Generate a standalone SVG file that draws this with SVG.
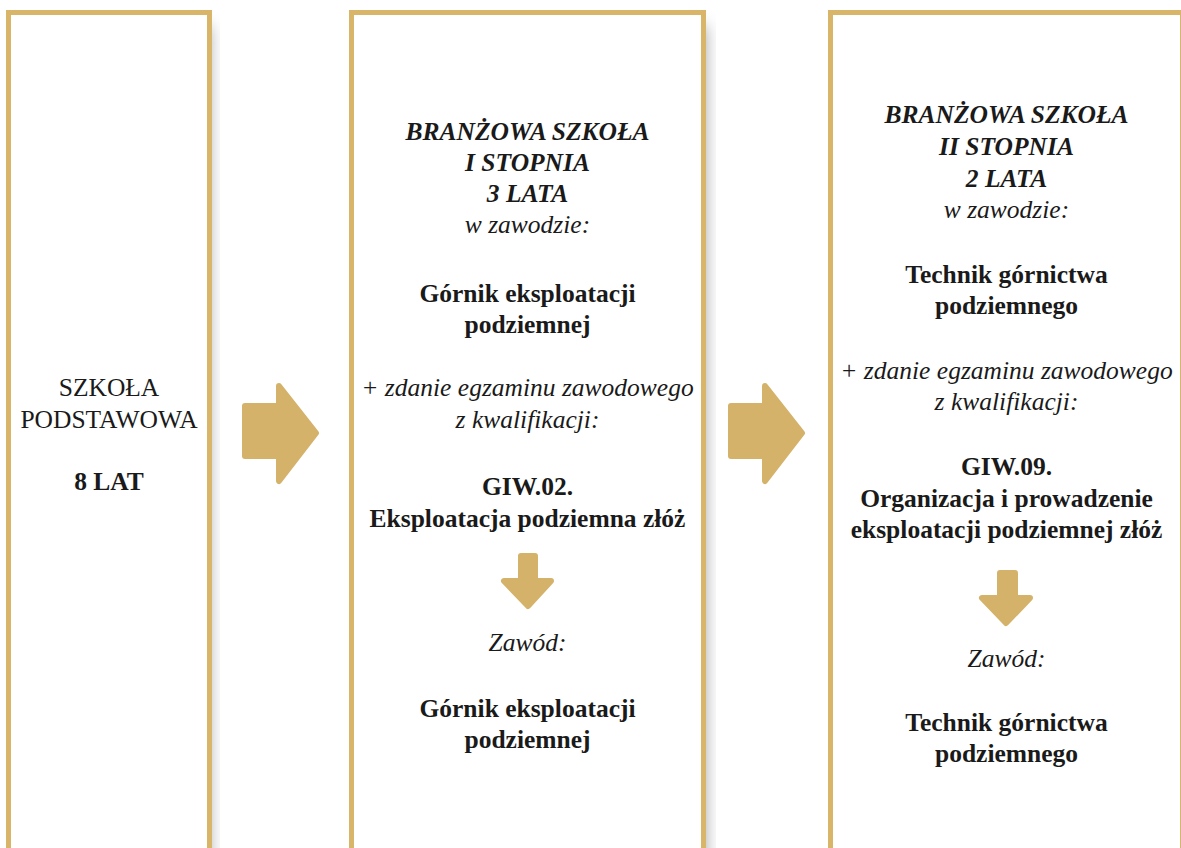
<svg xmlns="http://www.w3.org/2000/svg" width="1181" height="848" viewBox="0 0 1181 848">
<defs>
<filter id="blur" x="-50%" y="-10%" width="200%" height="120%"><feGaussianBlur stdDeviation="8"/></filter>
<style>
.box{fill:#fff;stroke:#d9b56a;stroke-width:5}
.sh{fill:#000;fill-opacity:0.35;filter:url(#blur)}
.arr{fill:#d5b26a;stroke:#d5b26a;stroke-width:6;stroke-linejoin:round}
text{font-family:"Liberation Serif","DejaVu Serif",serif;font-size:25.5px;fill:#1a1a1a;text-anchor:middle}
.b{font-weight:bold}
.i{font-style:italic}
.bi{font-weight:bold;font-style:italic}
</style>
</defs>
<rect width="1181" height="848" fill="#fff"/>
<g id="shadows">
<rect class="sh" x="190" y="26" width="20" height="900"/>
<rect class="sh" x="686" y="26" width="20" height="900"/>
</g>
<g id="node-podstawowa">
<rect class="box" x="8.5" y="12.5" width="201" height="900"/>
<text x="109" y="396">SZKOŁA</text>
<text x="109" y="428">PODSTAWOWA</text>
<text class="b" x="109" y="490">8 LAT</text>
</g>
<g id="node-branzowa1">
<rect class="box" x="351.5" y="12.5" width="352" height="900"/>
<text class="bi" x="527.5" y="140">BRANŻOWA SZKOŁA</text>
<text class="bi" x="527.5" y="171">I STOPNIA</text>
<text class="bi" x="527.5" y="202">3 LATA</text>
<text class="i" x="527.5" y="233">w zawodzie:</text>
<text class="b" x="527.5" y="302">Górnik eksploatacji</text>
<text class="b" x="527.5" y="333">podziemnej</text>
<text class="i" x="527.5" y="396">+ zdanie egzaminu zawodowego</text>
<text class="i" x="527.5" y="428">z kwalifikacji:</text>
<text class="b" x="527.5" y="495">GIW.02.</text>
<text class="b" x="527.5" y="527">Eksploatacja podziemna złóż</text>
<text class="i" x="527.5" y="651">Zawód:</text>
<text class="b" x="527.5" y="717">Górnik eksploatacji</text>
<text class="b" x="527.5" y="748">podziemnej</text>
</g>
<g id="node-branzowa2">
<rect class="box" x="830.5" y="12.5" width="352" height="900"/>
<text class="bi" x="1006.5" y="123">BRANŻOWA SZKOŁA</text>
<text class="bi" x="1006.5" y="155">II STOPNIA</text>
<text class="bi" x="1006.5" y="187">2 LATA</text>
<text class="i" x="1006.5" y="218">w zawodzie:</text>
<text class="b" x="1006.5" y="283">Technik górnictwa</text>
<text class="b" x="1006.5" y="314">podziemnego</text>
<text class="i" x="1006.5" y="379">+ zdanie egzaminu zawodowego</text>
<text class="i" x="1006.5" y="410">z kwalifikacji:</text>
<text class="b" x="1006.5" y="475">GIW.09.</text>
<text class="b" x="1006.5" y="507">Organizacja i prowadzenie</text>
<text class="b" x="1006.5" y="538">eksploatacji podziemnej złóż</text>
<text class="i" x="1006.5" y="667">Zawód:</text>
<text class="b" x="1006.5" y="731">Technik górnictwa</text>
<text class="b" x="1006.5" y="762">podziemnego</text>
</g>
<g id="connectors">
<path class="arr" d="M245,406 H279 V386 L316,433 L279,481 V456 H245 Z"/>
<path class="arr" d="M731,406 H765 V386 L802,433 L765,481 V456 H731 Z"/>
<path class="arr" d="M521,556 H535 V581 H551 L528,606 L504,581 H521 Z"/>
<path class="arr" d="M1000,573 H1015 V598 H1030 L1006,623 L982,598 H1000 Z"/>
</g>
</svg>
